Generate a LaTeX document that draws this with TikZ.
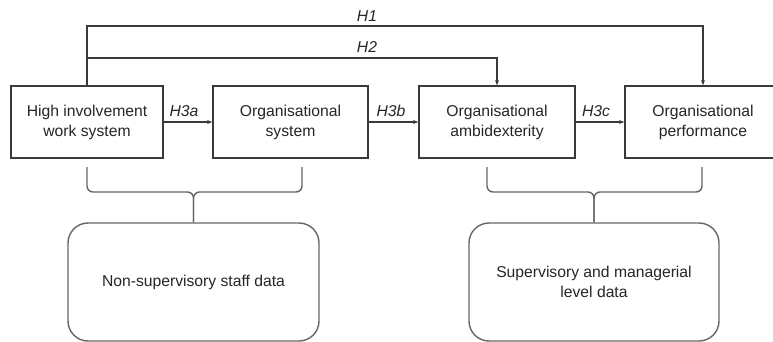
\documentclass[tikz,border=0pt]{standalone}
\usepackage{fontspec}
\setmainfont{Liberation Sans}
\usetikzlibrary{arrows.meta}
\definecolor{ln}{HTML}{3A3A3A}
\definecolor{tx}{HTML}{262626}
\definecolor{rl}{HTML}{666666}
\begin{document}
\begin{tikzpicture}[x=1pt,y=-1pt,
  txt/.style={font=\fontsize{15.7}{20}\selectfont, text=tx},
  box/.style={txt, draw=ln, line width=1.7pt, minimum height=72pt, inner sep=0pt, align=center},
  datab/.style={txt, draw=rl, line width=1.4pt, rounded corners=20pt, minimum width=251pt, minimum height=118pt, inner sep=0pt, align=center},
  lab/.style={txt, font=\fontsize{15.7}{20}\selectfont\itshape, inner sep=0pt, anchor=base},
  conn/.style={draw=ln, line width=1.3pt, -{Stealth[length=5pt,width=4pt]}},
  brace/.style={draw=rl, line width=1.4pt, rounded corners=6pt}]
\useasboundingbox (0,0) rectangle (773,342);
\clip (0,0) rectangle (773,342);
\fill[white] (0,0) rectangle (773,342);

\node[box, minimum width=152pt] (hiws) at (87,122) {High involvement\\work system};
\node[box, minimum width=155pt] (os) at (290.5,122) {Organisational\\system};
\node[box, minimum width=156pt] (oa) at (497,122) {Organisational\\ambidexterity};
\node[box, minimum width=156pt] (op) at (703,122) {Organisational\\performance};

\node[datab] (nsd) at (193.5,282) {Non-supervisory staff data};
\node[datab, minimum width=250pt] (smd) at (594,282) {Supervisory and managerial\\level data};

% horizontal hypotheses
\draw[conn] (hiws) -- (os);
\draw[conn] (os) -- (oa);
\draw[conn] (oa) -- (op);
\node[lab] (h3a) at (184,116.5) {H3a};
\node[lab] (h3b) at (391,116.5) {H3b};
\node[lab] (h3c) at (596,116.5) {H3c};

% H1 and H2
\coordinate (t1) at (87,26);
\coordinate (t2) at (87,58);
\draw[conn] (hiws.north) -- (t1) -| (op.north);
\draw[conn] (t2) -| (oa.north);
\node[lab] (h1) at (367,21.5) {H1};
\node[lab] (h2) at (367,53) {H2};

% braces
\coordinate (bl1) at (87,167);
\coordinate (bl2) at (302,167);
\coordinate (blm) at (193.5,192);
\draw[brace] (bl1) -- (bl1 |- blm) -- (blm) -- (nsd.north);
\draw[brace] (bl2) -- (bl2 |- blm) -- (blm) -- (nsd.north);

\coordinate (br1) at (487,167);
\coordinate (br2) at (702,167);
\coordinate (brm) at (594,192);
\draw[brace] (br1) -- (br1 |- brm) -- (brm) -- (smd.north);
\draw[brace] (br2) -- (br2 |- brm) -- (brm) -- (smd.north);
\end{tikzpicture}
\end{document}
